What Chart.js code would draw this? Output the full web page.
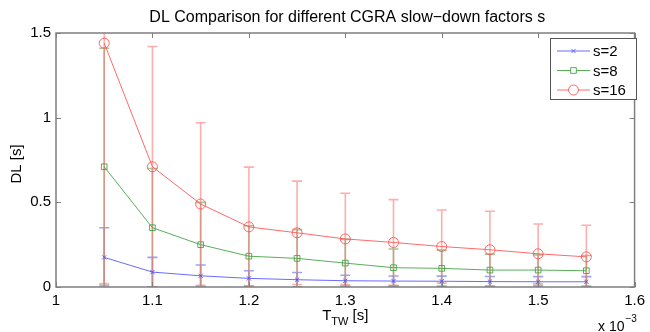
<!DOCTYPE html>
<html>
<head>
<meta charset="utf-8">
<script src="https://cdn.jsdelivr.net/npm/chart.js@4"></script>
<style>
html,body{margin:0;padding:0;background:#fff;}
#wrap{width:650px;height:332px;position:relative;}
</style>
</head>
<body>
<div id="wrap"><canvas id="c" width="650" height="332"></canvas></div>
<script>
// T_TW values (in units of 1e-3 s)
const tTW = [1.05, 1.10, 1.15, 1.20, 1.25, 1.30, 1.35, 1.40, 1.45, 1.50, 1.55];
const xTicks = [1, 1.1, 1.2, 1.3, 1.4, 1.5, 1.6];
const yTicks = [0, 0.5, 1, 1.5];
const seriesLabels = ["s=2", "s=8", "s=16"];
const dlS2  = [0.175, 0.088, 0.066, 0.051, 0.043, 0.037, 0.035, 0.034, 0.032, 0.031, 0.031];
const errS2 = [0.175, 0.087, 0.064, 0.045, 0.043, 0.032, 0.030, 0.030, 0.030, 0.030, 0.030];
const dlS8  = [0.71, 0.35, 0.25, 0.182, 0.169, 0.141, 0.114, 0.110, 0.100, 0.100, 0.096];
const errS8 = [0.70, 0.35, 0.25, 0.180, 0.170, 0.140, 0.110, 0.108, 0.094, 0.090, 0.090];
const dlS16  = [1.44, 0.71, 0.49, 0.355, 0.320, 0.284, 0.263, 0.239, 0.220, 0.196, 0.178];
const errS16 = [1.42, 0.71, 0.48, 0.353, 0.305, 0.270, 0.253, 0.216, 0.227, 0.176, 0.187];

const FONT = "'Liberation Sans', Arial, Helvetica, sans-serif";

function pts(ys){ return tTW.map((x,i)=>({x:x, y:ys[i]})); }

const styles = [
  {line:'rgba(80,80,255,0.85)', err:'rgba(120,120,255,0.7)', marker:'crossRot', r:3},
  {line:'rgba(60,160,60,0.85)', err:'rgba(100,175,100,0.65)', marker:'rect', r:4},
  {line:'rgba(255,80,80,0.85)', err:'rgba(255,120,120,0.6)', marker:'circle', r:5}
];
const errs = [errS2, errS8, errS16];

const errorBarPlugin = {
  id:'errorBars',
  beforeDatasetsDraw(chart){
    const {ctx, chartArea:a, scales:{x, y}} = chart;
    ctx.save();
    ctx.beginPath(); ctx.rect(a.left, a.top, a.right-a.left, a.bottom-a.top); ctx.clip();
    chart.data.datasets.forEach((ds, di)=>{
      const e = errs[di];
      ctx.strokeStyle = styles[di].err;
      ctx.lineWidth = 1.6;
      ds.data.forEach((p, i)=>{
        const px = x.getPixelForValue(p.x);
        const yt = y.getPixelForValue(p.y + e[i]);
        const yb = y.getPixelForValue(p.y - e[i]);
        ctx.beginPath();
        ctx.moveTo(px, yt); ctx.lineTo(px, yb);
        ctx.moveTo(px-5, yt); ctx.lineTo(px+5, yt);
        ctx.moveTo(px-5, yb); ctx.lineTo(px+5, yb);
        ctx.stroke();
      });
    });
    ctx.restore();
  }
};

const framePlugin = {
  id:'frame',
  afterDraw(chart){
    const {ctx, chartArea:a, scales:{x, y}} = chart;
    ctx.save();
    // box
    ctx.strokeStyle = '#7f7f7f';
    ctx.lineWidth = 1.5;
    ctx.strokeRect(a.left, a.top, a.right-a.left, a.bottom-a.top);
    // inner ticks
    ctx.lineWidth = 1;
    ctx.beginPath();
    xTicks.forEach(v=>{
      const px = Math.round(x.getPixelForValue(v))+0.5;
      ctx.moveTo(px, a.bottom); ctx.lineTo(px, a.bottom-5);
      ctx.moveTo(px, a.top); ctx.lineTo(px, a.top+5);
    });
    yTicks.forEach(v=>{
      const py = Math.round(y.getPixelForValue(v))+0.5;
      ctx.moveTo(a.left, py); ctx.lineTo(a.left+5, py);
      ctx.moveTo(a.right, py); ctx.lineTo(a.right-5, py);
    });
    ctx.stroke();

    // title
    ctx.fillStyle = '#000';
    ctx.font = '16px ' + FONT;
    ctx.textAlign = 'center'; ctx.textBaseline = 'middle';
    ctx.fillText('DL Comparison for different CGRA slow\u2212down factors s', (a.left+a.right)/2+2, 18);

    // y label
    ctx.save();
    ctx.translate(17, (a.top+a.bottom)/2 + 4);
    ctx.rotate(-Math.PI/2);
    ctx.font = '15px ' + FONT;
    ctx.fillText('DL [s]', 0, 0);
    ctx.restore();

    // x label T_TW [s]
    const cx = (a.left+a.right)/2;
    ctx.textAlign = 'left'; ctx.textBaseline = 'alphabetic';
    ctx.font = '15px ' + FONT;
    const wT = ctx.measureText('T').width;
    ctx.font = '11px ' + FONT;
    const wSub = ctx.measureText('TW').width;
    ctx.font = '15px ' + FONT;
    const wRest = ctx.measureText(' [s]').width;
    let sx = cx - (wT + wSub + wRest)/2;
    const base = 320;
    ctx.fillText('T', sx, base);
    ctx.font = '11px ' + FONT;
    ctx.fillText('TW', sx + wT, base + 5);
    ctx.font = '15px ' + FONT;
    ctx.fillText(' [s]', sx + wT + wSub, base);

    // x 10^-3 multiplier
    ctx.font = '14px ' + FONT;
    ctx.fillText('x 10', 598, 331);
    const w10 = ctx.measureText('x 10').width;
    ctx.font = '10px ' + FONT;
    ctx.fillText('\u22123', 598 + w10 + 1, 322);

    // legend
    const lx = 550, ly = 38, lw = 86, lh = 61;
    ctx.fillStyle = '#fff';
    ctx.fillRect(lx, ly, lw, lh);
    ctx.strokeStyle = '#555';
    ctx.lineWidth = 1;
    ctx.strokeRect(lx+0.5, ly+0.5, lw, lh);
    chart.data.datasets.forEach((ds, di)=>{
      const ry = ly + 13 + di*19.5;
      ctx.strokeStyle = ds.borderColor;
      ctx.lineWidth = 1;
      ctx.beginPath(); ctx.moveTo(lx+7, ry); ctx.lineTo(lx+40, ry); ctx.stroke();
      ctx.fillStyle = '#fff';
      ctx.strokeStyle = ds.borderColor;
      Chart.helpers.drawPoint(ctx, {pointStyle: ds.pointStyle, radius: ds.pointRadius, borderWidth: 1, rotation: 0}, lx+23.5, ry);
      ctx.fillStyle = '#000';
      ctx.font = '15px ' + FONT;
      ctx.textAlign = 'left'; ctx.textBaseline = 'middle';
      ctx.fillText(ds.label, lx+43, ry+1);
    });
    ctx.restore();
  }
};

const datasets = [dlS2, dlS8, dlS16].map((d, i)=>({
  label: seriesLabels[i],
  data: pts(d),
  borderColor: styles[i].line,
  backgroundColor: 'rgba(0,0,0,0)',
  borderWidth: 1,
  pointStyle: styles[i].marker,
  pointRadius: styles[i].r,
  pointBorderColor: styles[i].line,
  pointBackgroundColor: 'rgba(0,0,0,0)',
  pointBorderWidth: 1,
  tension: 0,
  clip: false
}));

new Chart(document.getElementById('c'), {
  type: 'line',
  data: { datasets },
  options: {
    responsive: false,
    animation: false,
    devicePixelRatio: 1,
    layout: { padding: { top: 33, right: 13, left: 0, bottom: 0 } },
    plugins: { legend: { display: false }, title: { display: false }, tooltip: { enabled: false } },
    scales: {
      x: {
        type: 'linear', min: 1, max: 1.6,
        afterBuildTicks(s){ s.ticks = xTicks.map(v=>({value:v})); },
        afterFit(s){ s.height = 45; },
        grid: { display: false, drawTicks: false },
        border: { display: false },
        ticks: { color: '#000', font: { family: FONT, size: 15 }, padding: 5, maxRotation: 0,
                 callback: v => String(v) }
      },
      y: {
        type: 'linear', min: 0, max: 1.5,
        afterBuildTicks(s){ s.ticks = yTicks.map(v=>({value:v})); },
        afterFit(s){ s.width = 56; },
        grid: { display: false, drawTicks: false },
        border: { display: false },
        ticks: { color: '#000', font: { family: FONT, size: 15 }, padding: 5,
                 callback: v => String(v) }
      }
    }
  },
  plugins: [errorBarPlugin, framePlugin]
});
</script>
</body>
</html>
